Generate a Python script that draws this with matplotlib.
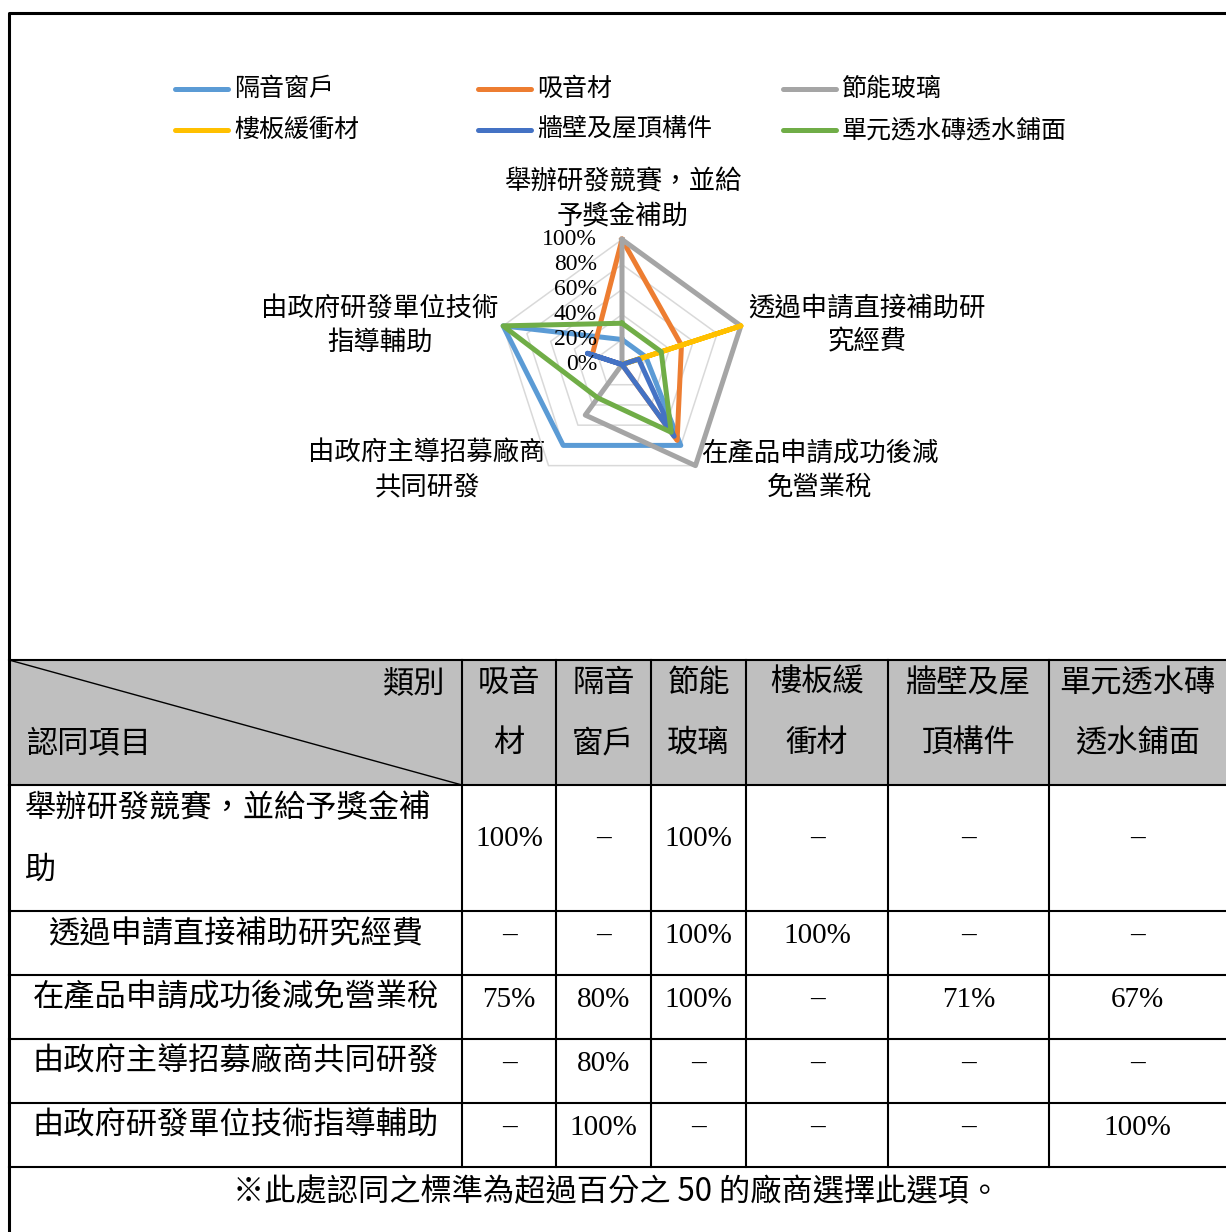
import numpy as np
import matplotlib
matplotlib.use('Agg')
import matplotlib.pyplot as plt
import matplotlib.transforms as mtransforms

CJK = ['Noto Sans CJK TC', 'DejaVu Sans']
NUM = ['Liberation Serif', 'DejaVu Serif']

# radar chart data (axes clockwise from top)
categories = ["舉辦研發競賽，並給\n予獎金補助", "透過申請直接補助研\n究經費",
              "在產品申請成功後減\n免營業稅", "由政府主導招募廠商\n共同研發",
              "由政府研發單位技術\n指導輔助"]
series_names = ["隔音窗戶", "吸音材", "節能玻璃", "樓板緩衝材", "牆壁及屋頂構件", "單元透水磚透水鋪面"]
series_colors = ["#5B9BD5", "#ED7D31", "#A5A5A5", "#FFC000", "#4472C4", "#70AD47"]
v_window = [20, 20, 80, 80, 100]
v_absorb = [100, 50, 75, 0, 25]
v_glass = [100, 100, 100, 50, 0]
v_floor = [0, 100, 0, 0, 0]
v_wall = [0, 14, 71, 0, 29]
v_paving = [33, 33, 67, 33, 100]
series_values = [v_window, v_absorb, v_glass, v_floor, v_wall, v_paving]
r_ticks = [0, 20, 40, 60, 80, 100]

# table data
col_labels = ["吸音\n材", "隔音\n窗戶", "節能\n玻璃", "樓板緩\n衝材", "牆壁及屋\n頂構件", "單元透水磚\n透水鋪面"]
row_labels = ["舉辦研發競賽，並給予獎金補\n助", "透過申請直接補助研究經費", "在產品申請成功後減免營業稅",
              "由政府主導招募廠商共同研發", "由政府研發單位技術指導輔助"]
table_values = [["100%", "–", "100%", "–", "–", "–"],
                ["–", "–", "100%", "100%", "–", "–"],
                ["75%", "80%", "100%", "–", "71%", "67%"],
                ["–", "80%", "–", "–", "–", "–"],
                ["–", "100%", "–", "–", "–", "100%"]]
note = "※此處認同之標準為超過百分之 50 的廠商選擇此選項。"

W, H = 1226, 1232
fig = plt.figure(figsize=(W / 100, H / 100), dpi=100)

# full-figure canvas in pixel coordinates
cv = fig.add_axes([0, 0, 1, 1])
cv.set_xlim(0, W)
cv.set_ylim(H, 0)
cv.axis('off')

# outer frame
cv.plot([9, 9, W], [H, 13, 13], color='k', lw=2.2, solid_capstyle='butt')

# legend
leg_x = [175, 478, 783]
leg_y = [89, 130]
for i, (name, c) in enumerate(zip(series_names, series_colors)):
    x0, y0 = leg_x[i % 3], leg_y[i // 3]
    cv.plot([x0, x0 + 53], [y0, y0], color=c, lw=3.6, solid_capstyle='round')
    cv.text(x0 + 59, y0, name, family=CJK, fontsize=18, va='center', ha='left')

# category labels
cat_pos = [(623, 182), (867, 308), (820, 453), (427, 453), (380, 308)]
for lab, (x, y) in zip(categories, cat_pos):
    for k, line in enumerate(lab.split('\n')):
        cv.text(x, y + k * 34, line, family=CJK, fontsize=19, ha='center', va='center')

# radar
cx, cy, R = 622, 364.5, 125
ax = fig.add_axes([(cx - R) / W, 1 - (cy + R) / H, 2 * R / W, 2 * R / H], projection='polar')
ax.set_theta_zero_location('N')
ax.set_theta_direction(-1)
ax.set_ylim(0, 100)
ax.patch.set_visible(False)
ax.spines['polar'].set_visible(False)
ax.grid(False)
ax.set_xticks([])
ax.set_yticks([])
theta = np.linspace(0, 2 * np.pi, len(categories), endpoint=False)
tc = np.append(theta, theta[0])
for r in r_ticks[1:]:
    ax.plot(tc, [r] * len(tc), color='#D9D9D9', lw=1.1, clip_on=False, zorder=1)
for vals, c in zip(series_values, series_colors):
    ax.plot(tc, vals + vals[:1], color=c, lw=3.6, solid_joinstyle='round', clip_on=False, zorder=3)
off = mtransforms.offset_copy(ax.transData, fig=fig, x=-25, y=0, units='dots')
for r in r_ticks:
    ax.text(0, r, f"{r}%", transform=off, family=NUM, fontsize=17, ha='right', va='center', zorder=4)

# table
col_edges = [9, 462, 556, 651, 746, 888, 1049, W]
row_edges = [660, 785, 911, 975, 1039, 1103, 1167, H]
cv.add_patch(plt.Rectangle((col_edges[0], row_edges[0]), W - col_edges[0], row_edges[1] - row_edges[0],
                           facecolor='#BFBFBF', edgecolor='none', zorder=0))
tlw = 1.5
for y in row_edges[:-1]:
    cv.plot([col_edges[0], W], [y, y], color='k', lw=tlw, zorder=2)
for x in col_edges[1:-1]:
    cv.plot([x, x], [row_edges[0], row_edges[-2]], color='k', lw=tlw, zorder=2)
cv.plot([col_edges[0], col_edges[1]], [row_edges[0], row_edges[1]], color='k', lw=1.0, zorder=2)

FS = 22.5
cv.text(445, row_edges[0] + 23, "類別", family=CJK, fontsize=FS, ha='right', va='center')
cv.text(27, row_edges[0] + 83, "認同項目", family=CJK, fontsize=FS, ha='left', va='center')
for j, lab in enumerate(col_labels):
    xc = (col_edges[j + 1] + col_edges[j + 2]) / 2
    for k, line in enumerate(lab.split('\n')):
        cv.text(xc, row_edges[0] + 23 + k * 60, line, family=CJK, fontsize=FS, ha='center', va='center')

for i, lab in enumerate(row_labels):
    top = row_edges[i + 1]
    lines = lab.split('\n')
    if len(lines) > 1:
        for k, line in enumerate(lines):
            cv.text(25, top + 23 + k * 62, line, family=CJK, fontsize=FS, ha='left', va='center')
    else:
        cv.text((col_edges[0] + col_edges[1]) / 2, top + 23, lab, family=CJK, fontsize=FS,
                ha='center', va='center')
    yv = top + 25 + (len(lines) - 1) * 29
    for j, v in enumerate(table_values[i]):
        xc = (col_edges[j + 1] + col_edges[j + 2]) / 2
        cv.text(xc, yv, v, family=NUM, fontsize=21, ha='center', va='center')

cv.text(617, row_edges[-2] + 25, note, family=CJK + NUM, fontsize=FS, ha='center', va='center')

fig.savefig('out.png', dpi=100)
